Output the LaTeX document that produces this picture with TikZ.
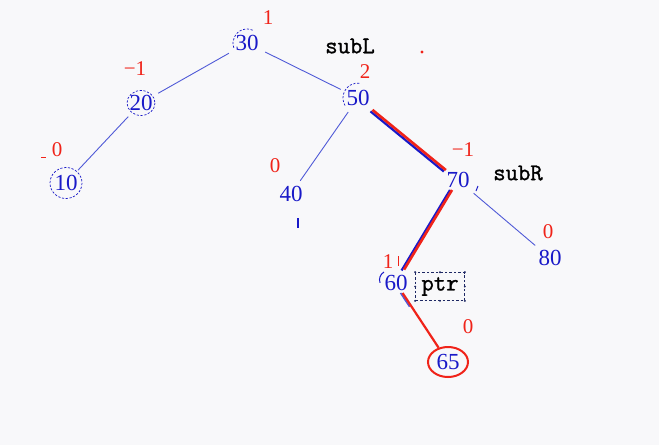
\documentclass[tikz,border=0pt]{standalone}
\usepackage{fontspec}
\usetikzlibrary{shapes.geometric,calc}
\newfontfamily\numfont{Liberation Serif}
\newfontfamily\labfont{Latin Modern Mono}[FakeBold=1.2]
\definecolor{nblue}{RGB}{25,25,200}
\definecolor{lblue}{RGB}{80,90,215}
\definecolor{bred}{RGB}{240,35,25}
\definecolor{bg}{RGB}{248,248,250}
\definecolor{navy}{RGB}{30,40,100}
\begin{document}
\begin{tikzpicture}[x=1pt,y=-1pt,
  num/.style={text=nblue,font=\numfont\fontsize{23}{25}\selectfont,inner sep=2pt},
  bf/.style={text=bred,font=\numfont\fontsize{21}{23}\selectfont,inner sep=1pt},
  lab/.style={text=black,font=\labfont\bfseries\fontsize{24}{26}\selectfont},
  edge/.style={draw=lblue,line width=0.9pt,shorten <=5pt,shorten >=4pt},
  hot/.style={draw=bred,line width=2.6pt},
  hotb/.style={draw=nblue,line width=2.2pt},
  dcirc/.style={draw=nblue,line width=0.7pt,dash pattern=on 2.2pt off 1.6pt},
  boxdot/.style={fill=navy,circle,inner sep=0pt,minimum size=2.2pt}]
\fill[bg] (0,0) rectangle (659,445);
\useasboundingbox (0,0) rectangle (659,445);

% nodes
\node[num] (n30) at (247,43) {30};
\node[num] (n20) at (141,103) {20};
\node[num] (n10) at (66,183) {10};
\node[num] (n50) at (358,98) {50};
\node[num] (n40) at (291,194) {40};
\node[num] (n70) at (458,180) {70};
\node[num] (n80) at (550,258) {80};
\node[num] (n60) at (396,283) {60};
\node[num,ellipse,draw=bred,line width=2pt,minimum width=40pt,minimum height=30pt,inner sep=0pt] (n65) at (448,362) {65};

% dashed circles
\draw[dcirc] (n20.center) ellipse [x radius=14, y radius=12.5];
\draw[dcirc] (n10.center) ellipse [x radius=16, y radius=15.5];
\draw[dcirc] (n30.center) ++(160:14) arc [start angle=160, end angle=300, radius=14];
\draw[dcirc] (n50.center) ++(150:15) arc [start angle=150, end angle=280, radius=15];

% edges
\draw[edge] (n30) -- (n20);
\draw[edge] (n30) -- (n50);
\draw[edge] (n20) -- (n10);
\draw[edge] (n50) -- (n40);
\draw[edge] (n70) -- (n80);
\draw[hotb,shorten <=3pt,transform canvas={shift={(-2pt,-1.5pt)}}] (n50) -- (n70);
\draw[hot,shorten <=3pt] (n50) -- (n70);
\draw[hotb,shorten >=3pt,transform canvas={shift={(-2pt,0pt)}}] (n70) -- (n60);
\draw[hot,shorten >=4pt] (n70) -- (n60);
\draw[draw=lblue,line width=1.6pt,transform canvas={shift={(-2pt,0pt)}}] (n60) -- ($(n60)!0.3!(n65)$);
\draw[hot,line width=2.2pt] (n60) -- (n65);

% balance factors
\node[bf] (b30) at (268,18) {1};
\node[bf] (b20) at (135,69) {−1};
\node[bf] (b10) at (57,150) {0};
\node[bf] (b50) at (365,72) {2};
\node[bf] (b40) at (275,166) {0};
\node[bf] (b70) at (463,150) {−1};
\node[bf] (b80) at (548,232) {0};
\node[bf] (b60) at (388,262) {1};
\node[bf] (b65) at (468,327) {0};

% labels
\node[lab] (subL) at (350,46) {subL};
\node[lab] (subR) at (518,173) {subR};
\node[lab,draw=navy,line width=0.7pt,dash pattern=on 2.5pt off 2pt,minimum width=49pt,minimum height=28pt,inner sep=1pt] (ptr) at (440,286.5) {ptr};
\foreach \a in {north west,north,north east,east,south east,south,south west,west}
  \node[boxdot] at (ptr.\a) {};

% small marks
\fill[bred] (422,52) circle (1.6);
\draw[bred,line width=1pt] (41,157) -- (46,157);
\draw[bred,line width=1pt] (398,256) -- (398,266);
\draw[nblue,line width=1.3pt] (298,218) -- (298,228);
\draw[nblue,line width=1pt] (478,186) -- (476,191);
\draw[nblue,line width=1pt] (384,272) arc [start angle=240, end angle=160, radius=9];
\end{tikzpicture}
\end{document}
